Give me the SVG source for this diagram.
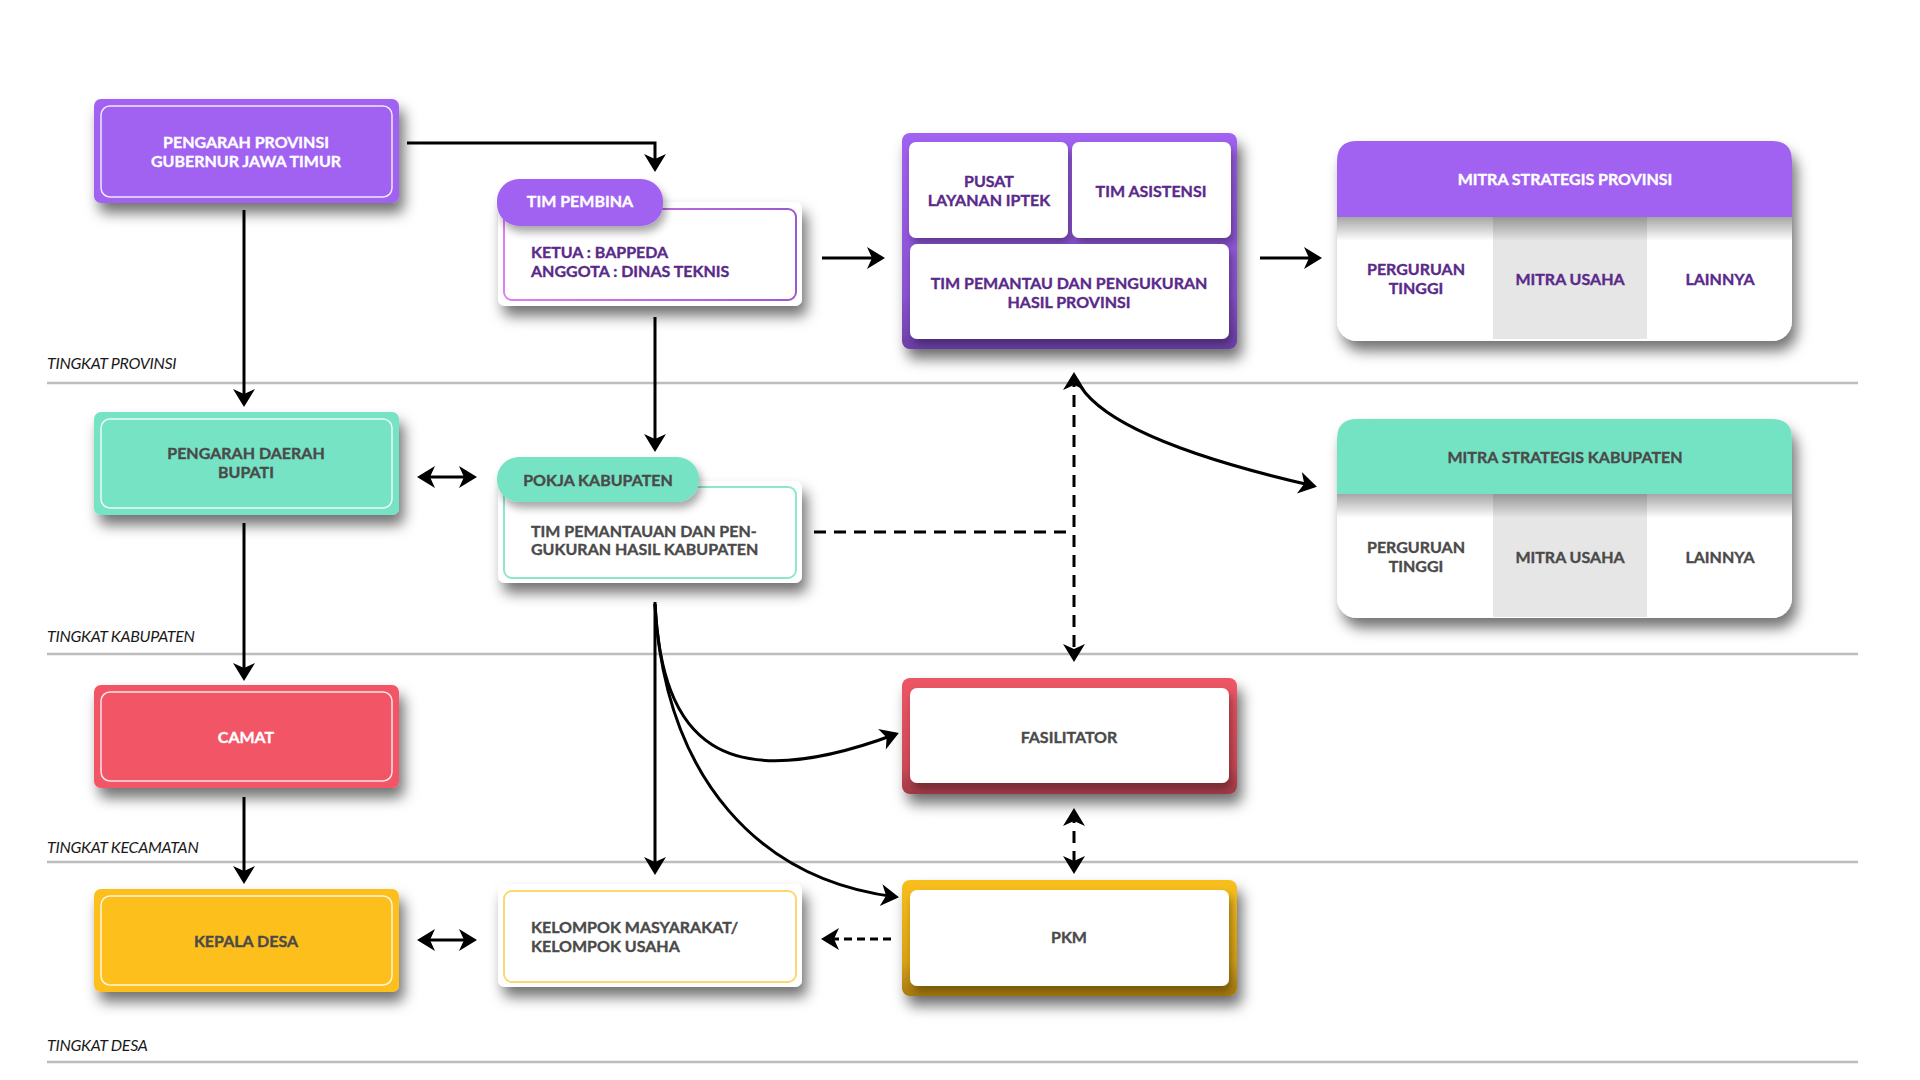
<svg xmlns="http://www.w3.org/2000/svg" width="1920" height="1080" viewBox="0 0 1920 1080">
<style>
.t{font-family:Lato,"Open Sans","Liberation Sans",sans-serif;font-weight:bold;font-size:16px;letter-spacing:0px;stroke-width:0.35px}
.c{text-anchor:middle}
.w{fill:#ffffff;stroke:#ffffff}
.p{fill:#5A2A8A;stroke:#5A2A8A}
.g{fill:#4A4A4A;stroke:#4A4A4A}
.lvl{font-family:Lato,"Open Sans","Liberation Sans",sans-serif;font-style:italic;font-weight:normal;font-size:16px;fill:#1a1a1a;letter-spacing:-0.3px}
.lvline{stroke:#BDBDBD;stroke-width:2.5}
.ib{fill:none;stroke:#ffffff;stroke-opacity:0.85;stroke-width:1.5}
.ln{fill:none;stroke:#000;stroke-width:3}
.dash{stroke-dasharray:12 8}
.dot{stroke-dasharray:8 5}
</style>
<defs>
<filter id="sh" x="-20%" y="-20%" width="150%" height="170%">
<feDropShadow dx="5" dy="10" stdDeviation="7" flood-color="#000" flood-opacity="0.55"/>
</filter>
<filter id="sh2" x="-20%" y="-30%" width="150%" height="180%">
<feDropShadow dx="3" dy="6" stdDeviation="4" flood-color="#000" flood-opacity="0.35"/>
</filter>
<marker id="ah" viewBox="-18 -12 22 24" refX="0" refY="0" markerWidth="22" markerHeight="24" markerUnits="userSpaceOnUse" orient="auto-start-reverse">
<path d="M3,0 L-15,-11 L-10,0 L-15,11 Z" fill="#000"/>
</marker>
<linearGradient id="gPur" x1="0" y1="0" x2="0" y2="1">
<stop offset="0" stop-color="#A162F1"/><stop offset="0.75" stop-color="#8A52D0"/><stop offset="1" stop-color="#6C3FA8"/>
</linearGradient>
<linearGradient id="gRed" x1="0" y1="0" x2="0" y2="1">
<stop offset="0" stop-color="#EE5565"/><stop offset="0.75" stop-color="#D04A58"/><stop offset="1" stop-color="#A03A46"/>
</linearGradient>
<linearGradient id="gYel" x1="0" y1="0" x2="0" y2="1">
<stop offset="0" stop-color="#F8BF1C"/><stop offset="0.7" stop-color="#D9A216"/><stop offset="1" stop-color="#A77A10"/>
</linearGradient>
<linearGradient id="gBorder" x1="0" y1="0" x2="1" y2="0">
<stop offset="0" stop-color="#E07EF2"/><stop offset="1" stop-color="#9A5ACB"/>
</linearGradient>
<linearGradient id="hdrSh" x1="0" y1="0" x2="0" y2="1">
<stop offset="0" stop-color="#000" stop-opacity="0.35"/><stop offset="1" stop-color="#000" stop-opacity="0"/>
</linearGradient>
</defs>
<rect width="1920" height="1080" fill="#ffffff"/>

<g id="levels">
<line class="lvline" x1="47" y1="383" x2="1858" y2="383"/>
<line class="lvline" x1="47" y1="654" x2="1858" y2="654"/>
<line class="lvline" x1="47" y1="862" x2="1858" y2="862"/>
<line class="lvline" x1="47" y1="1062" x2="1858" y2="1062"/>
<text class="lvl" x="47" y="369">TINGKAT PROVINSI</text>
<text class="lvl" x="47" y="642">TINGKAT KABUPATEN</text>
<text class="lvl" x="47" y="853">TINGKAT KECAMATAN</text>
<text class="lvl" x="47" y="1051">TINGKAT DESA</text>
</g>

<g id="connectors">
<path class="ln" d="M407,143 H655 V169" marker-end="url(#ah)"/>
<path class="ln" d="M244,210 V404" marker-end="url(#ah)"/>
<path class="ln" d="M655,317 V449" marker-end="url(#ah)"/>
<path class="ln" d="M822,258 H882" marker-end="url(#ah)"/>
<path class="ln" d="M1260,258 H1319" marker-end="url(#ah)"/>
<path class="ln" d="M420,477 H474" marker-start="url(#ah)" marker-end="url(#ah)"/>
<path class="ln" d="M244,523 V678" marker-end="url(#ah)"/>
<path class="ln dash" d="M814,532 H1074"/>
<path class="ln dash" d="M1074,375 V659" marker-start="url(#ah)" marker-end="url(#ah)"/>
<path class="ln" d="M1077,380 C1098,425 1200,460 1314,486" marker-end="url(#ah)"/>
<path class="ln" d="M655,602 V872" marker-end="url(#ah)"/>
<path class="ln" d="M655,604 C662,740 720,800 896,734" marker-end="url(#ah)"/>
<path class="ln" d="M655,604 C665,780 760,880 896,897" marker-end="url(#ah)"/>
<path class="ln" d="M244,797 V881" marker-end="url(#ah)"/>
<path class="ln" d="M420,940 H474" marker-start="url(#ah)" marker-end="url(#ah)"/>
<path class="ln dash" d="M1074,811 V871" marker-start="url(#ah)" marker-end="url(#ah)"/>
<path class="ln dot" d="M891,939 H824" marker-end="url(#ah)"/>
</g>

<g id="pengarah-provinsi">
<rect x="94" y="99" width="305" height="104" rx="7" fill="#A162F1" filter="url(#sh)"/>
<rect class="ib" x="101" y="106" width="291" height="91" rx="9"/>
<text class="t c w" x="246" y="148">PENGARAH PROVINSI</text>
<text class="t c w" x="246" y="167">GUBERNUR JAWA TIMUR</text>
</g>

<g id="tim-pembina">
<rect x="498" y="202" width="304" height="104" rx="7" fill="#fff" filter="url(#sh)"/>
<rect x="504" y="209" width="292" height="91" rx="8" fill="none" stroke="url(#gBorder)" stroke-width="2"/>
<rect x="497" y="179" width="166" height="47" rx="22" fill="#A162F1" filter="url(#sh2)"/>
<text class="t c w" x="580" y="207">TIM PEMBINA</text>
<text class="t p" x="531" y="258">KETUA : BAPPEDA</text>
<text class="t p" x="531" y="277">ANGGOTA : DINAS TEKNIS</text>
</g>

<g id="tim-provinsi">
<rect x="902" y="133" width="335" height="216" rx="8" fill="url(#gPur)" filter="url(#sh)"/>
<rect x="909" y="142" width="159" height="96" rx="7" fill="#fff" filter="url(#sh2)"/>
<rect x="1072" y="142" width="159" height="96" rx="7" fill="#fff" filter="url(#sh2)"/>
<rect x="910" y="244" width="319" height="95" rx="7" fill="#fff" filter="url(#sh2)"/>
<text class="t c p" x="989" y="187">PUSAT</text>
<text class="t c p" x="989" y="206">LAYANAN IPTEK</text>
<text class="t c p" x="1151" y="197">TIM ASISTENSI</text>
<text class="t c p" x="1069" y="289">TIM PEMANTAU DAN PENGUKURAN</text>
<text class="t c p" x="1069" y="308">HASIL PROVINSI</text>
</g>

<g id="mitra-provinsi">
<rect x="1337" y="141" width="455" height="200" rx="20" fill="#fff" filter="url(#sh)"/>
<rect x="1493" y="217" width="154" height="122" fill="#E6E6E6"/>
<rect x="1337" y="217" width="455" height="24" fill="url(#hdrSh)"/>
<path d="M1337,217 V161 Q1337,141 1357,141 H1772 Q1792,141 1792,161 V217 Z" fill="#A162F1"/>
<text class="t c w" x="1565" y="185">MITRA STRATEGIS PROVINSI</text>
<text class="t c p" x="1416" y="275">PERGURUAN</text>
<text class="t c p" x="1416" y="294">TINGGI</text>
<text class="t c p" x="1570" y="285">MITRA USAHA</text>
<text class="t c p" x="1720" y="285">LAINNYA</text>
</g>

<g id="pengarah-daerah">
<rect x="94" y="412" width="305" height="103" rx="7" fill="#74E3C4" filter="url(#sh)"/>
<rect class="ib" x="101" y="419" width="291" height="89" rx="9"/>
<text class="t c g" x="246" y="459">PENGARAH DAERAH</text>
<text class="t c g" x="246" y="478">BUPATI</text>
</g>

<g id="pokja-kabupaten">
<rect x="498" y="481" width="304" height="102" rx="7" fill="#fff" filter="url(#sh)"/>
<rect x="504" y="487" width="292" height="91" rx="8" fill="none" stroke="#8EE6CE" stroke-width="2"/>
<rect x="497" y="457" width="202" height="45" rx="22" fill="#74E3C4" filter="url(#sh2)"/>
<text class="t c g" x="598" y="486">POKJA KABUPATEN</text>
<text class="t g" x="531" y="537">TIM PEMANTAUAN DAN PEN-</text>
<text class="t g" x="531" y="555">GUKURAN HASIL KABUPATEN</text>
</g>

<g id="mitra-kabupaten">
<rect x="1337" y="419" width="455" height="199" rx="20" fill="#fff" filter="url(#sh)"/>
<rect x="1493" y="494" width="154" height="123" fill="#E6E6E6"/>
<rect x="1337" y="494" width="455" height="24" fill="url(#hdrSh)"/>
<path d="M1337,494 V439 Q1337,419 1357,419 H1772 Q1792,419 1792,439 V494 Z" fill="#74E3C4"/>
<text class="t c g" x="1565" y="463">MITRA STRATEGIS KABUPATEN</text>
<text class="t c g" x="1416" y="553">PERGURUAN</text>
<text class="t c g" x="1416" y="572">TINGGI</text>
<text class="t c g" x="1570" y="563">MITRA USAHA</text>
<text class="t c g" x="1720" y="563">LAINNYA</text>
</g>

<g id="camat">
<rect x="94" y="685" width="305" height="103" rx="7" fill="#F25566" filter="url(#sh)"/>
<rect class="ib" x="101" y="692" width="291" height="89" rx="9"/>
<text class="t c w" x="246" y="743">CAMAT</text>
</g>

<g id="fasilitator">
<rect x="902" y="678" width="335" height="116" rx="8" fill="url(#gRed)" filter="url(#sh)"/>
<rect x="910" y="688" width="319" height="95" rx="7" fill="#fff" filter="url(#sh2)"/>
<text class="t c g" x="1069" y="743">FASILITATOR</text>
</g>

<g id="kepala-desa">
<rect x="94" y="889" width="305" height="103" rx="7" fill="#FDBF1A" filter="url(#sh)"/>
<rect class="ib" x="101" y="896" width="291" height="89" rx="9"/>
<text class="t c g" x="246" y="947">KEPALA DESA</text>
</g>

<g id="kelompok">
<rect x="498" y="884" width="304" height="103" rx="7" fill="#fff" filter="url(#sh)"/>
<rect x="504" y="891" width="292" height="91" rx="8" fill="none" stroke="#FDD870" stroke-width="2"/>
<text class="t g" x="531" y="933">KELOMPOK MASYARAKAT/</text>
<text class="t g" x="531" y="952">KELOMPOK USAHA</text>
</g>

<g id="pkm">
<rect x="902" y="880" width="335" height="116" rx="8" fill="url(#gYel)" filter="url(#sh)"/>
<rect x="910" y="890" width="319" height="96" rx="7" fill="#fff" filter="url(#sh2)"/>
<text class="t c g" x="1069" y="943">PKM</text>
</g>
</svg>
